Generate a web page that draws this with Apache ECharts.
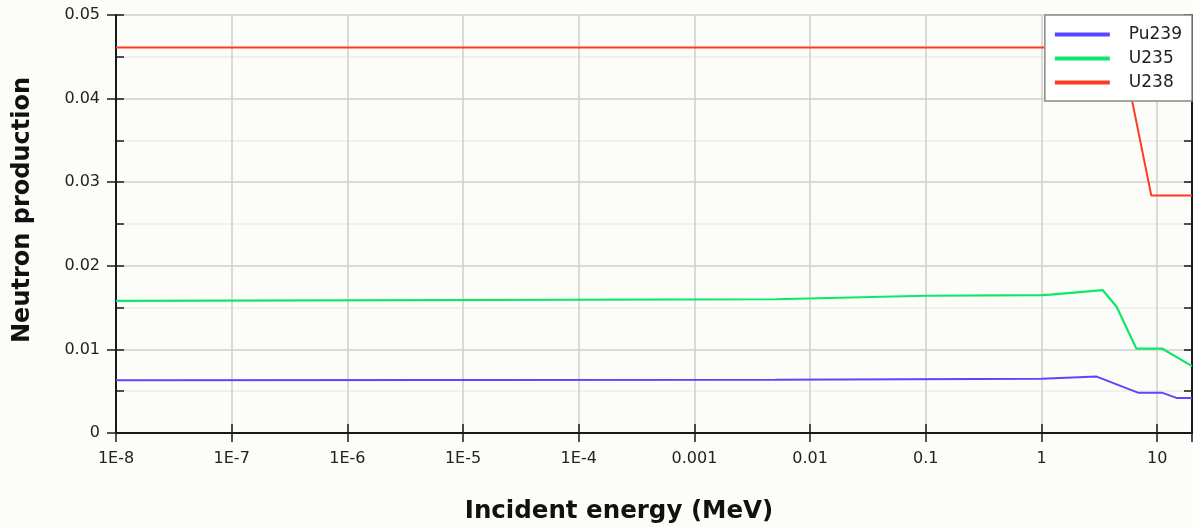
<!DOCTYPE html>
<html>
<head>
<meta charset="utf-8">
<script src="https://cdn.jsdelivr.net/npm/echarts@6/dist/echarts.min.js"></script>
<style>
html,body{margin:0;padding:0;background:#fcfcf9;}
#chart{width:1193px;height:527px;}
</style>
</head>
<body>
<div id="chart"></div>
<script>
// Incident energy (MeV) sample points and neutron production values
const seriesNames = ['Pu239', 'U235', 'U238'];
const pu239Energy = [1e-8, 0.005, 1, 3.0, 6.9, 11.1, 14.7, 20];
const pu239Value  = [0.0063, 0.00638, 0.0065, 0.00675, 0.0048, 0.0048, 0.0042, 0.0042];
const u235Energy  = [1e-8, 0.005, 0.1, 1, 1.2, 3.37, 4.46, 6.6, 11, 20];
const u235Value   = [0.0158, 0.0160, 0.01642, 0.0165, 0.01655, 0.0171, 0.0151, 0.0101, 0.0101, 0.0080];
const u238Energy  = [1e-8, 4.9, 8.9, 20];
const u238Value   = [0.0461, 0.0461, 0.0284, 0.0284];
const yTicks = [0, 0.01, 0.02, 0.03, 0.04, 0.05];
const xMin = 1e-8, xMax = 20;
const colors = ['#5b46ff', '#0be86a', '#ff3a24'];

function pairs(xs, ys){ return xs.map((x,i)=>[x, ys[i]]); }
function xLabel(v){
  const l = Math.log10(v);
  const e = Math.round(l);
  if (Math.abs(l - e) > 1e-6) return '';
  if (e <= -4) return '1E-' + (-e);
  if (e < 0) return (Math.pow(10, e)).toFixed(-e);
  return String(Math.pow(10, e));
}
const axisCol = '#1a1a1a';
const chart = echarts.init(document.getElementById('chart'));
chart.setOption({
  backgroundColor: '#fcfcf9',
  animation: false,
  color: colors,
  grid: {left:116, right:1, top:15, bottom:94, containLabel:false, outerBoundsMode:'none'},
  legend: {
    orient:'vertical', right:1, top:15,
    data: seriesNames,
    icon:'rect', itemWidth:55, itemHeight:4, itemGap:7,
    padding:[11,10,10,10],
    backgroundColor:'#ffffff', borderColor:'#888', borderWidth:1.5,
    textStyle:{fontFamily:'DejaVu Sans', fontSize:17, color:'#222', padding:[0,0,0,14]}
  },
  xAxis: [
    {
      type:'log', logBase:10, min:xMin, max:xMax, position:'bottom',
      name:'Incident energy (MeV)', nameLocation:'middle', nameGap:66,
      nameTextStyle:{fontFamily:'DejaVu Sans', fontWeight:'bold', fontSize:24.5, color:'#111', padding:[0,70,0,0]},
      axisLine:{show:true, lineStyle:{color:axisCol, width:2}},
      axisTick:{show:true, inside:false, length:9, lineStyle:{color:axisCol, width:1.5}},
      axisLabel:{formatter:xLabel, fontFamily:'DejaVu Sans', fontSize:16, color:'#222', margin:18},
      splitLine:{show:true, lineStyle:{color:'#cfcfcf', width:1.5}},
      minorTick:{show:false}, minorSplitLine:{show:false}
    },
    {
      type:'log', logBase:10, min:xMin, max:xMax, position:'bottom',
      axisLine:{show:false}, axisTick:{show:true, inside:true, length:9, lineStyle:{color:axisCol, width:1.5}},
      axisLabel:{show:false}, splitLine:{show:false}
    },
    {
      type:'log', logBase:10, min:xMin, max:xMax, position:'top',
      axisLine:{show:true, lineStyle:{color:axisCol, width:2}},
      axisTick:{show:true, inside:true, length:8, lineStyle:{color:axisCol, width:1.5}},
      axisLabel:{show:false}, splitLine:{show:false}
    }
  ],
  yAxis: [
    {
      type:'value', min:yTicks[0], max:yTicks[yTicks.length-1], interval:0.01, position:'left',
      name:'Neutron production', nameLocation:'middle', nameGap:81,
      nameTextStyle:{fontFamily:'DejaVu Sans', fontWeight:'bold', fontSize:24, color:'#111', padding:[0,0,0,28]},
      axisLine:{show:true, lineStyle:{color:axisCol, width:2}},
      axisTick:{show:true, inside:false, length:9, lineStyle:{color:axisCol, width:1.5}},
      axisLabel:{formatter:v=>String(+v.toFixed(2)), fontFamily:'DejaVu Sans', fontSize:16, color:'#222', margin:16},
      splitLine:{show:true, lineStyle:{color:'#cfcfcf', width:1.5}},
      minorTick:{show:false, splitNumber:2},
      minorSplitLine:{show:true, lineStyle:{color:'#ececec', width:1.5}}
    },
    {
      type:'value', min:yTicks[0], max:yTicks[yTicks.length-1], interval:0.01, position:'left',
      axisLine:{show:false},
      axisTick:{show:true, inside:true, length:8, lineStyle:{color:axisCol, width:1.5}},
      minorTick:{show:true, splitNumber:2, length:8, lineStyle:{color:axisCol, width:1.5}},
      axisLabel:{show:false}, splitLine:{show:false}
    },
    {
      type:'value', min:yTicks[0], max:yTicks[yTicks.length-1], interval:0.01, position:'right',
      axisLine:{show:true, lineStyle:{color:axisCol, width:2}},
      axisTick:{show:true, inside:true, length:8, lineStyle:{color:axisCol, width:1.5}},
      minorTick:{show:true, splitNumber:2, length:8, lineStyle:{color:axisCol, width:1.5}},
      axisLabel:{show:false}, splitLine:{show:false}
    }
  ],
  series: [
    {name:seriesNames[0], type:'line', data:pairs(pu239Energy, pu239Value), showSymbol:false, lineStyle:{width:2}, z:3},
    {name:seriesNames[1], type:'line', data:pairs(u235Energy, u235Value), showSymbol:false, lineStyle:{width:2.2}, z:3},
    {name:seriesNames[2], type:'line', data:pairs(u238Energy, u238Value), showSymbol:false, lineStyle:{width:2}, z:3}
  ]
});
</script>
</body>
</html>
